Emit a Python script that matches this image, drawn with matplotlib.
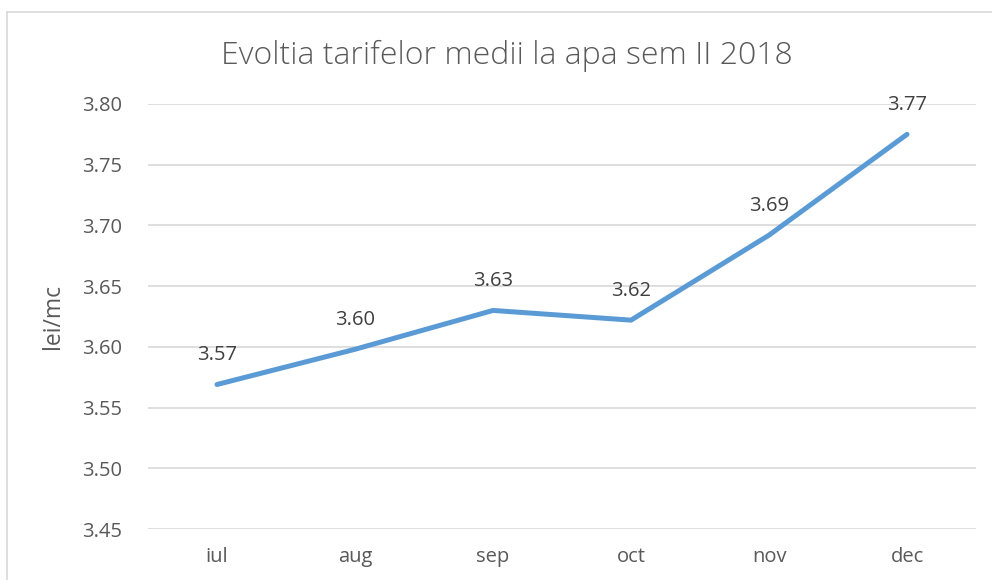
import matplotlib
matplotlib.use("Agg")
import matplotlib.pyplot as plt
from matplotlib.lines import Line2D

# Data
months = ["iul", "aug", "sep", "oct", "nov", "dec"]
tarif = [3.569, 3.598, 3.630, 3.622, 3.692, 3.775]
yticks = [3.45, 3.50, 3.55, 3.60, 3.65, 3.70, 3.75, 3.80]

plt.rcParams["font.family"] = ["Open Sans", "DejaVu Sans"]
text_col = "#595959"
line_col = "#5B9BD5"
grid_col = "#D9D9D9"

fig = plt.figure(figsize=(9.92, 5.8), dpi=100)
ax = fig.add_axes([0.1492, 0.0879, 0.8347, 0.7328])

x = list(range(len(months)))
ax.plot(x, tarif, color=line_col, linewidth=3.6, solid_capstyle="round",
        solid_joinstyle="round", zorder=3)

for xi, v in zip(x, tarif):
    ax.annotate(f"{v:.2f}", (xi, v), xytext=(0, 21), textcoords="offset points",
                ha="center", va="center", fontsize=14.5, color="#404040")

ax.set_xlim(-0.5, len(months) - 0.5)
ax.set_ylim(3.45, 3.80)
ax.set_yticks(yticks)
ax.set_yticklabels([f"{t:.2f}" for t in yticks])
ax.set_xticks(x)
ax.set_xticklabels(months)
ax.tick_params(axis="both", length=0, labelsize=14.5, labelcolor=text_col)
ax.tick_params(axis="y", pad=19)
ax.tick_params(axis="x", pad=13)
ax.grid(axis="y", color=grid_col, linewidth=1.2)
ax.set_axisbelow(True)
for s in ax.spines.values():
    s.set_visible(False)

ax.set_ylabel("lei/mc", fontsize=16.5, color=text_col, labelpad=12)
fig.text(0.511, 0.904, "Evoltia tarifelor medii la apa sem II 2018",
         ha="center", va="center", fontsize=23, color=text_col, fontweight="light")

# chart border (top and left edges visible)
fig.add_artist(Line2D([0.0075, 1.0], [0.979, 0.979], transform=fig.transFigure,
                      color=grid_col, linewidth=1.2))
fig.add_artist(Line2D([0.0075, 0.0075], [0.0, 0.979], transform=fig.transFigure,
                      color=grid_col, linewidth=1.2))

fig.savefig("out.png", dpi=100, facecolor="white")
